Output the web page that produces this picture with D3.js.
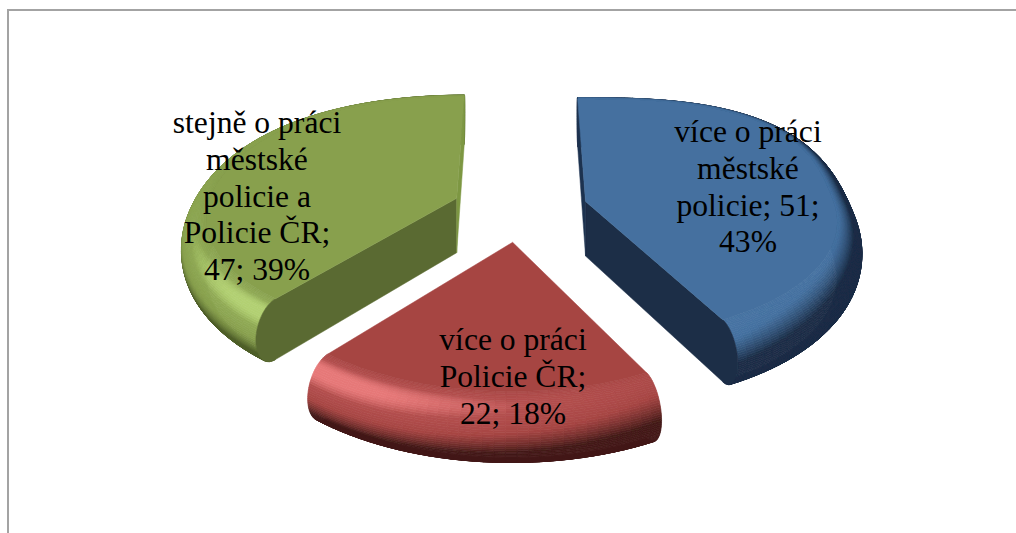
<!DOCTYPE html>
<html><head><meta charset="utf-8">
<script src="https://cdn.jsdelivr.net/npm/d3@7/dist/d3.min.js"></script>
<style>html,body{margin:0;padding:0;background:#fff}svg{display:block}</style>
</head><body><svg id="c" width="1016" height="533"></svg>
<script>
const categories = ["více o práci městské policie","více o práci Policie ČR","stejně o práci městské policie a Policie ČR"];
const values = [51,22,47];
const percents = [43,18,39];
const labelLines = [
  ["více o práci","městské","policie; 51;","43%"],
  ["více o práci","Policie ČR;","22; 18%"],
  ["stejně o práci","městské","policie a","Policie ČR;","47; 39%"]
];
const labelAt = [[748,142],[513,350],[257,133]];
const baseColors = ["#44709f","#a64543","#88a04e"];
const darkColors = ["#1b2d46","#431a18","#4f5f2a"];
const highColors = ["#5b8cc8","#e67878","#b2d072"];
const faceColors = [["#1f3350","#1b2d46"],["#431a18","#431a18"],["#5a6a31","#7d9743"]];
const backBulge = [0.1,0,0.02];

const W=1016,H=533, cx=520, cy=209, k=0.00055, q=0.474;
const R=250, explode=68, bev=24, depth=55;
const light=[-0.4,0.55,0.73];
const svg=d3.select("#c");
const defs=svg.append("defs");
defs.append("filter").attr("id","soft").attr("x","-5%").attr("y","-5%").attr("width","110%").attr("height","110%")
  .append("feGaussianBlur").attr("stdDeviation",0.7);
svg.append("path").attr("d",`M${W},10H8V${H}`).attr("fill","none").attr("stroke","#a3a3a3").attr("stroke-width",2);

const pie=d3.pie().sort(null).startAngle(0).endAngle(2*Math.PI);
const arcs=pie(values);
const line=d3.line().curve(d3.curveLinear);
function project(X,Y,Z){const s=1/(1-k*Y);return [cx+X*s, cy+(Y*q-Z)*s];}

function drawSlice(g,d,i){
  const mid=(d.startAngle+d.endAngle)/2;
  const ox=explode*Math.sin(mid), oy=-explode*Math.cos(mid);
  const P=(a,r,z)=>project(ox+r*Math.sin(a),oy-r*Math.cos(a),z-depth);
  const rad=a=>R*(1+(Math.cos(a)>0?backBulge[i]*Math.sin(2*a)**2:0));
  const prof=(a,t)=>({r:rad(a)+bev*Math.sin(t),z:depth/2*(1+Math.cos(t))});
  const midHigh=d3.interpolateRgb(baseColors[i],highColors[i])(0.2);
  const shadeCol=d3.scaleLinear().domain([0.33,0.7,0.9,0.985]).range([darkColors[i],baseColors[i],midHigh,highColors[i]]).clamp(true);
  const N=48, step=Math.PI/90;
  const nA=Math.max(2,Math.round((d.endAngle-d.startAngle)/step));
  const angs=d3.range(nA+1).map(j=>d.startAngle+(d.endAngle-d.startAngle)*j/nA);
  const ths=d3.range(N+1).map(j=>Math.PI*j/N);
  for(let b=N-1;b>=0;b--){
    const t0=ths[b],t1=ths[b+1],tm=(t0+t1)/2;
    for(let j=0;j<nA;j++){
      const a0=angs[j],a1=angs[j+1],am=(a0+a1)/2;
      let nr=depth/2*Math.sin(tm), nz=bev*Math.cos(tm); const L=Math.hypot(nr,nz); nr/=L;nz/=L;
      const n=[nr*Math.sin(am),-nr*Math.cos(am),nz];
      const s=n[0]*light[0]+n[1]*light[1]+n[2]*light[2];
      const c=shadeCol(s);
      const q0=prof(a0,t0),q1=prof(a1,t0),q2=prof(a1,t1),q3=prof(a0,t1);
      g.append("path").attr("d",line([P(a0,q0.r,q0.z),P(a1,q1.r,q1.z),P(a1,q2.r,q2.z),P(a0,q3.r,q3.z)])+"Z")
        .attr("fill",c).attr("stroke",c).attr("stroke-width",0.7);
    }
  }
  [d.startAngle,d.endAngle].forEach((a,w)=>{
    const pts=[P(a,0,depth)].concat(ths.map(t=>{const p=prof(a,t);return P(a,p.r,p.z);})).concat([P(a,0,0)]);
    const area=d3.polygonArea(pts)*(w===0?1:-1);
    if(area>0) g.append("path").attr("d",line(pts)+"Z").attr("fill",faceColors[i][w]).attr("stroke",faceColors[i][w]).attr("stroke-width",0.5);
  });
  const top=[P(0,0,depth)].concat(angs.map(a=>P(a,rad(a),depth)));
  g.append("path").attr("d",line(top)+"Z").attr("fill",baseColors[i]).attr("stroke",baseColors[i]).attr("stroke-width",0.5);
}
arcs.forEach((d,i)=>drawSlice(svg.append("g").attr("filter","url(#soft)"),d,i));

labelLines.forEach((ls,i)=>{
  const t=svg.append("text").attr("text-anchor","middle").attr("font-family","'Liberation Serif',serif").attr("font-size",31.6).attr("fill","#000");
  ls.forEach((s,j)=>t.append("tspan").attr("x",labelAt[i][0]).attr("y",labelAt[i][1]+j*36.8).text(s));
});
</script></body></html>
